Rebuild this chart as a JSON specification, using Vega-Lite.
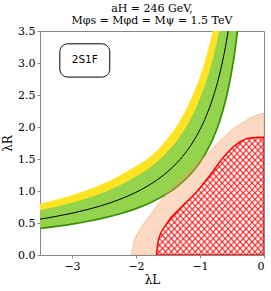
{
  "$schema": "https://vega.github.io/schema/vega-lite/v6.json",
  "width": 224,
  "height": 224,
  "autosize": "none",
  "padding": {"left": 40, "top": 31, "right": 7, "bottom": 36},
  "title": {
    "text": ["aH = 246 GeV,", "Mφs = Mφd = Mψ = 1.5 TeV"],
    "font": "DejaVu Serif",
    "fontSize": 11,
    "fontWeight": "normal",
    "lineHeight": 12,
    "anchor": "middle",
    "offset": -1,
    "color": "#000"
  },
  "datasets": {
    "bands": [
      {"x": -3.5, "lo": 0.414, "mid": 0.56, "hi": 0.70, "yel": 0.80},
      {"x": -3.25, "lo": 0.446, "mid": 0.603, "hi": 0.754, "yel": 0.862},
      {"x": -3.0, "lo": 0.483, "mid": 0.653, "hi": 0.817, "yel": 0.933},
      {"x": -2.75, "lo": 0.527, "mid": 0.713, "hi": 0.891, "yel": 1.018},
      {"x": -2.5, "lo": 0.58, "mid": 0.784, "hi": 0.98, "yel": 1.12},
      {"x": -2.25, "lo": 0.644, "mid": 0.871, "hi": 1.089, "yel": 1.244},
      {"x": -2.0, "lo": 0.725, "mid": 0.98, "hi": 1.225, "yel": 1.39},
      {"x": -1.75, "lo": 0.829, "mid": 1.12, "hi": 1.39, "yel": 1.56},
      {"x": -1.5, "lo": 0.967, "mid": 1.307, "hi": 1.62, "yel": 1.83},
      {"x": -1.35, "lo": 1.074, "mid": 1.452, "hi": 1.80, "yel": 2.04},
      {"x": -1.2, "lo": 1.208, "mid": 1.633, "hi": 2.03, "yel": 2.31},
      {"x": -1.1, "lo": 1.318, "mid": 1.782, "hi": 2.22, "yel": 2.53},
      {"x": -1.0, "lo": 1.45, "mid": 1.96, "hi": 2.45, "yel": 2.79},
      {"x": -0.9, "lo": 1.611, "mid": 2.178, "hi": 2.722, "yel": 3.111},
      {"x": -0.8, "lo": 1.813, "mid": 2.45, "hi": 3.063, "yel": 3.5},
      {"x": -0.75, "lo": 1.933, "mid": 2.613, "hi": 3.267, "yel": 3.733},
      {"x": -0.7, "lo": 2.071, "mid": 2.8, "hi": 3.5, "yel": 4.0},
      {"x": -0.65, "lo": 2.231, "mid": 3.015, "hi": 3.769, "yel": 4.308},
      {"x": -0.6, "lo": 2.417, "mid": 3.267, "hi": 4.083, "yel": 4.667},
      {"x": -0.55, "lo": 2.636, "mid": 3.564, "hi": 4.455, "yel": 5.091},
      {"x": -0.5, "lo": 2.9, "mid": 3.92, "hi": 4.9, "yel": 5.6},
      {"x": -0.45, "lo": 3.222, "mid": 4.356, "hi": 5.444, "yel": 6.222},
      {"x": -0.4, "lo": 3.625, "mid": 4.9, "hi": 6.125, "yel": 7.0}
    ],
    "peach": [
      {"x": -2.07, "y": 0},
      {"x": -2.04, "y": 0.18},
      {"x": -1.95, "y": 0.38},
      {"x": -1.78, "y": 0.62},
      {"x": -1.47, "y": 1.02},
      {"x": -1.16, "y": 1.33},
      {"x": -0.9, "y": 1.57},
      {"x": -0.74, "y": 1.73},
      {"x": -0.53, "y": 1.93},
      {"x": -0.3, "y": 2.09},
      {"x": -0.1, "y": 2.19},
      {"x": 0, "y": 2.22}
    ],
    "red": [
      {"x": -1.68, "y": 0},
      {"x": -1.65, "y": 0.23},
      {"x": -1.52, "y": 0.49},
      {"x": -1.31, "y": 0.73},
      {"x": -1.05, "y": 0.99},
      {"x": -0.84, "y": 1.25},
      {"x": -0.64, "y": 1.52},
      {"x": -0.43, "y": 1.73},
      {"x": -0.22, "y": 1.83},
      {"x": 0, "y": 1.84}
    ],
    "box": [
      {"x": -3.19, "x2": -2.41, "y": 2.78, "y2": 3.30, "tx": -2.8, "ty": 3.04, "label": "2S1F"}
    ]
  },
  "layer": [
    {
      "data": {"name": "bands"},
      "mark": {"type": "area", "clip": true, "interpolate": "monotone", "color": "#fde321"},
      "encoding": {
        "x": {
          "field": "x", "type": "quantitative",
          "scale": {"domain": [-3.5, 0], "nice": false, "zero": false},
          "axis": {"title": "λL", "values": [-3, -2, -1, 0], "format": "d"}
        },
        "y": {
          "field": "yel", "type": "quantitative",
          "scale": {"domain": [0, 3.5], "nice": false, "zero": false},
          "axis": {"title": "λR", "values": [0, 0.5, 1, 1.5, 2, 2.5, 3, 3.5], "format": ".1f", "labelOverlap": false}
        },
        "y2": {"field": "lo"}
      }
    },
    {
      "data": {"name": "bands"},
      "mark": {"type": "area", "clip": true, "interpolate": "monotone", "color": "#93d44c"},
      "encoding": {
        "x": {"field": "x", "type": "quantitative", "axis": {"title": "λL", "values": [-3, -2, -1, 0], "format": "d"}},
        "y": {"field": "hi", "type": "quantitative", "axis": {"title": "λR", "values": [0, 0.5, 1, 1.5, 2, 2.5, 3, 3.5], "format": ".1f", "labelOverlap": false}},
        "y2": {"field": "lo"}
      }
    },
    {
      "data": {"name": "bands"},
      "mark": {"type": "line", "clip": true, "interpolate": "monotone", "color": "#3a8c0a", "strokeWidth": 1.7},
      "encoding": {
        "x": {"field": "x", "type": "quantitative", "axis": {"title": "λL", "values": [-3, -2, -1, 0], "format": "d"}},
        "y": {"field": "lo", "type": "quantitative", "axis": {"title": "λR", "values": [0, 0.5, 1, 1.5, 2, 2.5, 3, 3.5], "format": ".1f", "labelOverlap": false}}
      }
    },
    {
      "data": {"name": "bands"},
      "mark": {"type": "line", "clip": true, "interpolate": "monotone", "color": "#000000", "strokeWidth": 1},
      "encoding": {
        "x": {"field": "x", "type": "quantitative", "axis": {"title": "λL", "values": [-3, -2, -1, 0], "format": "d"}},
        "y": {"field": "mid", "type": "quantitative", "axis": {"title": "λR", "values": [0, 0.5, 1, 1.5, 2, 2.5, 3, 3.5], "format": ".1f", "labelOverlap": false}}
      }
    },
    {
      "data": {"name": "peach"},
      "mark": {"type": "area", "clip": true, "interpolate": "monotone", "fill": "#f79a5e", "fillOpacity": 0.38, "stroke": "#f79a5e", "strokeOpacity": 0.35, "strokeWidth": 1.2},
      "encoding": {
        "x": {"field": "x", "type": "quantitative", "axis": {"title": "λL", "values": [-3, -2, -1, 0], "format": "d"}},
        "y": {"field": "y", "type": "quantitative", "axis": {"title": "λR", "values": [0, 0.5, 1, 1.5, 2, 2.5, 3, 3.5], "format": ".1f", "labelOverlap": false}},
        "y2": {"datum": 0}
      }
    },
    {
      "data": {"name": "red"},
      "mark": {"type": "area", "clip": true, "interpolate": "monotone", "fill": "#ffffff"},
      "encoding": {
        "x": {"field": "x", "type": "quantitative", "axis": {"title": "λL", "values": [-3, -2, -1, 0], "format": "d"}},
        "y": {"field": "y", "type": "quantitative", "axis": {"title": "λR", "values": [0, 0.5, 1, 1.5, 2, 2.5, 3, 3.5], "format": ".1f", "labelOverlap": false}},
        "y2": {"datum": 0}
      }
    },
    {
      "data": {"name": "red"},
      "mark": {"type": "area", "clip": true, "interpolate": "monotone",
        "fill": {"gradient": "linear", "x1": 0, "y1": 0, "x2": 1, "y2": 1, "stops": [
          {"offset": 0, "color": "rgba(255,0,0,0.75)"},{"offset": 0.0083, "color": "rgba(255,0,0,0)"},{"offset": 0.0194, "color": "rgba(255,0,0,0)"},
          {"offset": 0.0278, "color": "rgba(255,0,0,0.75)"},{"offset": 0.0361, "color": "rgba(255,0,0,0)"},{"offset": 0.0472, "color": "rgba(255,0,0,0)"},
          {"offset": 0.0556, "color": "rgba(255,0,0,0.75)"},{"offset": 0.0639, "color": "rgba(255,0,0,0)"},{"offset": 0.0750, "color": "rgba(255,0,0,0)"},
          {"offset": 0.0833, "color": "rgba(255,0,0,0.75)"},{"offset": 0.0917, "color": "rgba(255,0,0,0)"},{"offset": 0.1028, "color": "rgba(255,0,0,0)"},
          {"offset": 0.1111, "color": "rgba(255,0,0,0.75)"},{"offset": 0.1194, "color": "rgba(255,0,0,0)"},{"offset": 0.1306, "color": "rgba(255,0,0,0)"},
          {"offset": 0.1389, "color": "rgba(255,0,0,0.75)"},{"offset": 0.1472, "color": "rgba(255,0,0,0)"},{"offset": 0.1583, "color": "rgba(255,0,0,0)"},
          {"offset": 0.1667, "color": "rgba(255,0,0,0.75)"},{"offset": 0.1750, "color": "rgba(255,0,0,0)"},{"offset": 0.1861, "color": "rgba(255,0,0,0)"},
          {"offset": 0.1944, "color": "rgba(255,0,0,0.75)"},{"offset": 0.2028, "color": "rgba(255,0,0,0)"},{"offset": 0.2139, "color": "rgba(255,0,0,0)"},
          {"offset": 0.2222, "color": "rgba(255,0,0,0.75)"},{"offset": 0.2306, "color": "rgba(255,0,0,0)"},{"offset": 0.2417, "color": "rgba(255,0,0,0)"},
          {"offset": 0.2500, "color": "rgba(255,0,0,0.75)"},{"offset": 0.2583, "color": "rgba(255,0,0,0)"},{"offset": 0.2694, "color": "rgba(255,0,0,0)"},
          {"offset": 0.2778, "color": "rgba(255,0,0,0.75)"},{"offset": 0.2861, "color": "rgba(255,0,0,0)"},{"offset": 0.2972, "color": "rgba(255,0,0,0)"},
          {"offset": 0.3056, "color": "rgba(255,0,0,0.75)"},{"offset": 0.3139, "color": "rgba(255,0,0,0)"},{"offset": 0.3250, "color": "rgba(255,0,0,0)"},
          {"offset": 0.3333, "color": "rgba(255,0,0,0.75)"},{"offset": 0.3417, "color": "rgba(255,0,0,0)"},{"offset": 0.3528, "color": "rgba(255,0,0,0)"},
          {"offset": 0.3611, "color": "rgba(255,0,0,0.75)"},{"offset": 0.3694, "color": "rgba(255,0,0,0)"},{"offset": 0.3806, "color": "rgba(255,0,0,0)"},
          {"offset": 0.3889, "color": "rgba(255,0,0,0.75)"},{"offset": 0.3972, "color": "rgba(255,0,0,0)"},{"offset": 0.4083, "color": "rgba(255,0,0,0)"},
          {"offset": 0.4167, "color": "rgba(255,0,0,0.75)"},{"offset": 0.4250, "color": "rgba(255,0,0,0)"},{"offset": 0.4361, "color": "rgba(255,0,0,0)"},
          {"offset": 0.4444, "color": "rgba(255,0,0,0.75)"},{"offset": 0.4528, "color": "rgba(255,0,0,0)"},{"offset": 0.4639, "color": "rgba(255,0,0,0)"},
          {"offset": 0.4722, "color": "rgba(255,0,0,0.75)"},{"offset": 0.4806, "color": "rgba(255,0,0,0)"},{"offset": 0.4917, "color": "rgba(255,0,0,0)"},
          {"offset": 0.5000, "color": "rgba(255,0,0,0.75)"},{"offset": 0.5083, "color": "rgba(255,0,0,0)"},{"offset": 0.5194, "color": "rgba(255,0,0,0)"},
          {"offset": 0.5278, "color": "rgba(255,0,0,0.75)"},{"offset": 0.5361, "color": "rgba(255,0,0,0)"},{"offset": 0.5472, "color": "rgba(255,0,0,0)"},
          {"offset": 0.5556, "color": "rgba(255,0,0,0.75)"},{"offset": 0.5639, "color": "rgba(255,0,0,0)"},{"offset": 0.5750, "color": "rgba(255,0,0,0)"},
          {"offset": 0.5833, "color": "rgba(255,0,0,0.75)"},{"offset": 0.5917, "color": "rgba(255,0,0,0)"},{"offset": 0.6028, "color": "rgba(255,0,0,0)"},
          {"offset": 0.6111, "color": "rgba(255,0,0,0.75)"},{"offset": 0.6194, "color": "rgba(255,0,0,0)"},{"offset": 0.6306, "color": "rgba(255,0,0,0)"},
          {"offset": 0.6389, "color": "rgba(255,0,0,0.75)"},{"offset": 0.6472, "color": "rgba(255,0,0,0)"},{"offset": 0.6583, "color": "rgba(255,0,0,0)"},
          {"offset": 0.6667, "color": "rgba(255,0,0,0.75)"},{"offset": 0.6750, "color": "rgba(255,0,0,0)"},{"offset": 0.6861, "color": "rgba(255,0,0,0)"},
          {"offset": 0.6944, "color": "rgba(255,0,0,0.75)"},{"offset": 0.7028, "color": "rgba(255,0,0,0)"},{"offset": 0.7139, "color": "rgba(255,0,0,0)"},
          {"offset": 0.7222, "color": "rgba(255,0,0,0.75)"},{"offset": 0.7306, "color": "rgba(255,0,0,0)"},{"offset": 0.7417, "color": "rgba(255,0,0,0)"},
          {"offset": 0.7500, "color": "rgba(255,0,0,0.75)"},{"offset": 0.7583, "color": "rgba(255,0,0,0)"},{"offset": 0.7694, "color": "rgba(255,0,0,0)"},
          {"offset": 0.7778, "color": "rgba(255,0,0,0.75)"},{"offset": 0.7861, "color": "rgba(255,0,0,0)"},{"offset": 0.7972, "color": "rgba(255,0,0,0)"},
          {"offset": 0.8056, "color": "rgba(255,0,0,0.75)"},{"offset": 0.8139, "color": "rgba(255,0,0,0)"},{"offset": 0.8250, "color": "rgba(255,0,0,0)"},
          {"offset": 0.8333, "color": "rgba(255,0,0,0.75)"},{"offset": 0.8417, "color": "rgba(255,0,0,0)"},{"offset": 0.8528, "color": "rgba(255,0,0,0)"},
          {"offset": 0.8611, "color": "rgba(255,0,0,0.75)"},{"offset": 0.8694, "color": "rgba(255,0,0,0)"},{"offset": 0.8806, "color": "rgba(255,0,0,0)"},
          {"offset": 0.8889, "color": "rgba(255,0,0,0.75)"},{"offset": 0.8972, "color": "rgba(255,0,0,0)"},{"offset": 0.9083, "color": "rgba(255,0,0,0)"},
          {"offset": 0.9167, "color": "rgba(255,0,0,0.75)"},{"offset": 0.9250, "color": "rgba(255,0,0,0)"},{"offset": 0.9361, "color": "rgba(255,0,0,0)"},
          {"offset": 0.9444, "color": "rgba(255,0,0,0.75)"},{"offset": 0.9528, "color": "rgba(255,0,0,0)"},{"offset": 0.9639, "color": "rgba(255,0,0,0)"},
          {"offset": 0.9722, "color": "rgba(255,0,0,0.75)"},{"offset": 0.9806, "color": "rgba(255,0,0,0)"},{"offset": 0.9917, "color": "rgba(255,0,0,0)"},
          {"offset": 1, "color": "rgba(255,0,0,0.75)"}
        ]}},
      "encoding": {
        "x": {"field": "x", "type": "quantitative", "axis": {"title": "λL", "values": [-3, -2, -1, 0], "format": "d"}},
        "y": {"field": "y", "type": "quantitative", "axis": {"title": "λR", "values": [0, 0.5, 1, 1.5, 2, 2.5, 3, 3.5], "format": ".1f", "labelOverlap": false}},
        "y2": {"datum": 0}
      }
    },
    {
      "data": {"name": "red"},
      "mark": {"type": "area", "clip": true, "interpolate": "monotone",
        "fill": {"gradient": "linear", "x1": 1, "y1": 0, "x2": 0, "y2": 1, "stops": [
          {"offset": 0, "color": "rgba(255,0,0,0.75)"},{"offset": 0.0083, "color": "rgba(255,0,0,0)"},{"offset": 0.0194, "color": "rgba(255,0,0,0)"},
          {"offset": 0.0278, "color": "rgba(255,0,0,0.75)"},{"offset": 0.0361, "color": "rgba(255,0,0,0)"},{"offset": 0.0472, "color": "rgba(255,0,0,0)"},
          {"offset": 0.0556, "color": "rgba(255,0,0,0.75)"},{"offset": 0.0639, "color": "rgba(255,0,0,0)"},{"offset": 0.0750, "color": "rgba(255,0,0,0)"},
          {"offset": 0.0833, "color": "rgba(255,0,0,0.75)"},{"offset": 0.0917, "color": "rgba(255,0,0,0)"},{"offset": 0.1028, "color": "rgba(255,0,0,0)"},
          {"offset": 0.1111, "color": "rgba(255,0,0,0.75)"},{"offset": 0.1194, "color": "rgba(255,0,0,0)"},{"offset": 0.1306, "color": "rgba(255,0,0,0)"},
          {"offset": 0.1389, "color": "rgba(255,0,0,0.75)"},{"offset": 0.1472, "color": "rgba(255,0,0,0)"},{"offset": 0.1583, "color": "rgba(255,0,0,0)"},
          {"offset": 0.1667, "color": "rgba(255,0,0,0.75)"},{"offset": 0.1750, "color": "rgba(255,0,0,0)"},{"offset": 0.1861, "color": "rgba(255,0,0,0)"},
          {"offset": 0.1944, "color": "rgba(255,0,0,0.75)"},{"offset": 0.2028, "color": "rgba(255,0,0,0)"},{"offset": 0.2139, "color": "rgba(255,0,0,0)"},
          {"offset": 0.2222, "color": "rgba(255,0,0,0.75)"},{"offset": 0.2306, "color": "rgba(255,0,0,0)"},{"offset": 0.2417, "color": "rgba(255,0,0,0)"},
          {"offset": 0.2500, "color": "rgba(255,0,0,0.75)"},{"offset": 0.2583, "color": "rgba(255,0,0,0)"},{"offset": 0.2694, "color": "rgba(255,0,0,0)"},
          {"offset": 0.2778, "color": "rgba(255,0,0,0.75)"},{"offset": 0.2861, "color": "rgba(255,0,0,0)"},{"offset": 0.2972, "color": "rgba(255,0,0,0)"},
          {"offset": 0.3056, "color": "rgba(255,0,0,0.75)"},{"offset": 0.3139, "color": "rgba(255,0,0,0)"},{"offset": 0.3250, "color": "rgba(255,0,0,0)"},
          {"offset": 0.3333, "color": "rgba(255,0,0,0.75)"},{"offset": 0.3417, "color": "rgba(255,0,0,0)"},{"offset": 0.3528, "color": "rgba(255,0,0,0)"},
          {"offset": 0.3611, "color": "rgba(255,0,0,0.75)"},{"offset": 0.3694, "color": "rgba(255,0,0,0)"},{"offset": 0.3806, "color": "rgba(255,0,0,0)"},
          {"offset": 0.3889, "color": "rgba(255,0,0,0.75)"},{"offset": 0.3972, "color": "rgba(255,0,0,0)"},{"offset": 0.4083, "color": "rgba(255,0,0,0)"},
          {"offset": 0.4167, "color": "rgba(255,0,0,0.75)"},{"offset": 0.4250, "color": "rgba(255,0,0,0)"},{"offset": 0.4361, "color": "rgba(255,0,0,0)"},
          {"offset": 0.4444, "color": "rgba(255,0,0,0.75)"},{"offset": 0.4528, "color": "rgba(255,0,0,0)"},{"offset": 0.4639, "color": "rgba(255,0,0,0)"},
          {"offset": 0.4722, "color": "rgba(255,0,0,0.75)"},{"offset": 0.4806, "color": "rgba(255,0,0,0)"},{"offset": 0.4917, "color": "rgba(255,0,0,0)"},
          {"offset": 0.5000, "color": "rgba(255,0,0,0.75)"},{"offset": 0.5083, "color": "rgba(255,0,0,0)"},{"offset": 0.5194, "color": "rgba(255,0,0,0)"},
          {"offset": 0.5278, "color": "rgba(255,0,0,0.75)"},{"offset": 0.5361, "color": "rgba(255,0,0,0)"},{"offset": 0.5472, "color": "rgba(255,0,0,0)"},
          {"offset": 0.5556, "color": "rgba(255,0,0,0.75)"},{"offset": 0.5639, "color": "rgba(255,0,0,0)"},{"offset": 0.5750, "color": "rgba(255,0,0,0)"},
          {"offset": 0.5833, "color": "rgba(255,0,0,0.75)"},{"offset": 0.5917, "color": "rgba(255,0,0,0)"},{"offset": 0.6028, "color": "rgba(255,0,0,0)"},
          {"offset": 0.6111, "color": "rgba(255,0,0,0.75)"},{"offset": 0.6194, "color": "rgba(255,0,0,0)"},{"offset": 0.6306, "color": "rgba(255,0,0,0)"},
          {"offset": 0.6389, "color": "rgba(255,0,0,0.75)"},{"offset": 0.6472, "color": "rgba(255,0,0,0)"},{"offset": 0.6583, "color": "rgba(255,0,0,0)"},
          {"offset": 0.6667, "color": "rgba(255,0,0,0.75)"},{"offset": 0.6750, "color": "rgba(255,0,0,0)"},{"offset": 0.6861, "color": "rgba(255,0,0,0)"},
          {"offset": 0.6944, "color": "rgba(255,0,0,0.75)"},{"offset": 0.7028, "color": "rgba(255,0,0,0)"},{"offset": 0.7139, "color": "rgba(255,0,0,0)"},
          {"offset": 0.7222, "color": "rgba(255,0,0,0.75)"},{"offset": 0.7306, "color": "rgba(255,0,0,0)"},{"offset": 0.7417, "color": "rgba(255,0,0,0)"},
          {"offset": 0.7500, "color": "rgba(255,0,0,0.75)"},{"offset": 0.7583, "color": "rgba(255,0,0,0)"},{"offset": 0.7694, "color": "rgba(255,0,0,0)"},
          {"offset": 0.7778, "color": "rgba(255,0,0,0.75)"},{"offset": 0.7861, "color": "rgba(255,0,0,0)"},{"offset": 0.7972, "color": "rgba(255,0,0,0)"},
          {"offset": 0.8056, "color": "rgba(255,0,0,0.75)"},{"offset": 0.8139, "color": "rgba(255,0,0,0)"},{"offset": 0.8250, "color": "rgba(255,0,0,0)"},
          {"offset": 0.8333, "color": "rgba(255,0,0,0.75)"},{"offset": 0.8417, "color": "rgba(255,0,0,0)"},{"offset": 0.8528, "color": "rgba(255,0,0,0)"},
          {"offset": 0.8611, "color": "rgba(255,0,0,0.75)"},{"offset": 0.8694, "color": "rgba(255,0,0,0)"},{"offset": 0.8806, "color": "rgba(255,0,0,0)"},
          {"offset": 0.8889, "color": "rgba(255,0,0,0.75)"},{"offset": 0.8972, "color": "rgba(255,0,0,0)"},{"offset": 0.9083, "color": "rgba(255,0,0,0)"},
          {"offset": 0.9167, "color": "rgba(255,0,0,0.75)"},{"offset": 0.9250, "color": "rgba(255,0,0,0)"},{"offset": 0.9361, "color": "rgba(255,0,0,0)"},
          {"offset": 0.9444, "color": "rgba(255,0,0,0.75)"},{"offset": 0.9528, "color": "rgba(255,0,0,0)"},{"offset": 0.9639, "color": "rgba(255,0,0,0)"},
          {"offset": 0.9722, "color": "rgba(255,0,0,0.75)"},{"offset": 0.9806, "color": "rgba(255,0,0,0)"},{"offset": 0.9917, "color": "rgba(255,0,0,0)"},
          {"offset": 1, "color": "rgba(255,0,0,0.75)"}
        ]}},
      "encoding": {
        "x": {"field": "x", "type": "quantitative", "axis": {"title": "λL", "values": [-3, -2, -1, 0], "format": "d"}},
        "y": {"field": "y", "type": "quantitative", "axis": {"title": "λR", "values": [0, 0.5, 1, 1.5, 2, 2.5, 3, 3.5], "format": ".1f", "labelOverlap": false}},
        "y2": {"datum": 0}
      }
    },
    {
      "data": {"name": "red"},
      "mark": {"type": "area", "clip": true, "interpolate": "monotone", "fillOpacity": 0, "stroke": "#ff0000", "strokeWidth": 1.5},
      "encoding": {
        "x": {"field": "x", "type": "quantitative", "axis": {"title": "λL", "values": [-3, -2, -1, 0], "format": "d"}},
        "y": {"field": "y", "type": "quantitative", "axis": {"title": "λR", "values": [0, 0.5, 1, 1.5, 2, 2.5, 3, 3.5], "format": ".1f", "labelOverlap": false}},
        "y2": {"datum": 0}
      }
    },
    {
      "data": {"name": "box"},
      "mark": {"type": "rect", "fill": "#ffffff", "stroke": "#000000", "strokeWidth": 1, "cornerRadius": 8},
      "encoding": {
        "x": {"field": "x", "type": "quantitative", "axis": {"title": "λL", "values": [-3, -2, -1, 0], "format": "d"}},
        "x2": {"field": "x2"},
        "y": {"field": "y", "type": "quantitative", "axis": {"title": "λR", "values": [0, 0.5, 1, 1.5, 2, 2.5, 3, 3.5], "format": ".1f", "labelOverlap": false}},
        "y2": {"field": "y2"}
      }
    },
    {
      "data": {"name": "box"},
      "mark": {"type": "text", "font": "DejaVu Sans", "fontSize": 10.5, "color": "#000000", "align": "center", "baseline": "middle"},
      "encoding": {
        "x": {"field": "tx", "type": "quantitative", "axis": {"title": "λL", "values": [-3, -2, -1, 0], "format": "d"}},
        "y": {"field": "ty", "type": "quantitative", "axis": {"title": "λR", "values": [0, 0.5, 1, 1.5, 2, 2.5, 3, 3.5], "format": ".1f", "labelOverlap": false}},
        "text": {"field": "label"}
      }
    }
  ],
  "config": {
    "view": {"stroke": "#888888", "strokeWidth": 1},
    "background": "#ffffff",
    "axis": {
      "grid": false, "domain": false, "tickSize": 3, "tickColor": "#888888", "labelPadding": 2,
      "labelFont": "DejaVu Serif", "labelFontSize": 11, "labelColor": "#000000", "labelOverlap": false,
      "titleFont": "DejaVu Serif", "titleFontSize": 12, "titleFontWeight": "normal", "titleColor": "#000000", "titlePadding": 3
    },
    "axisY": {"labelBound": false, "labelFlush": false}
  }
}
